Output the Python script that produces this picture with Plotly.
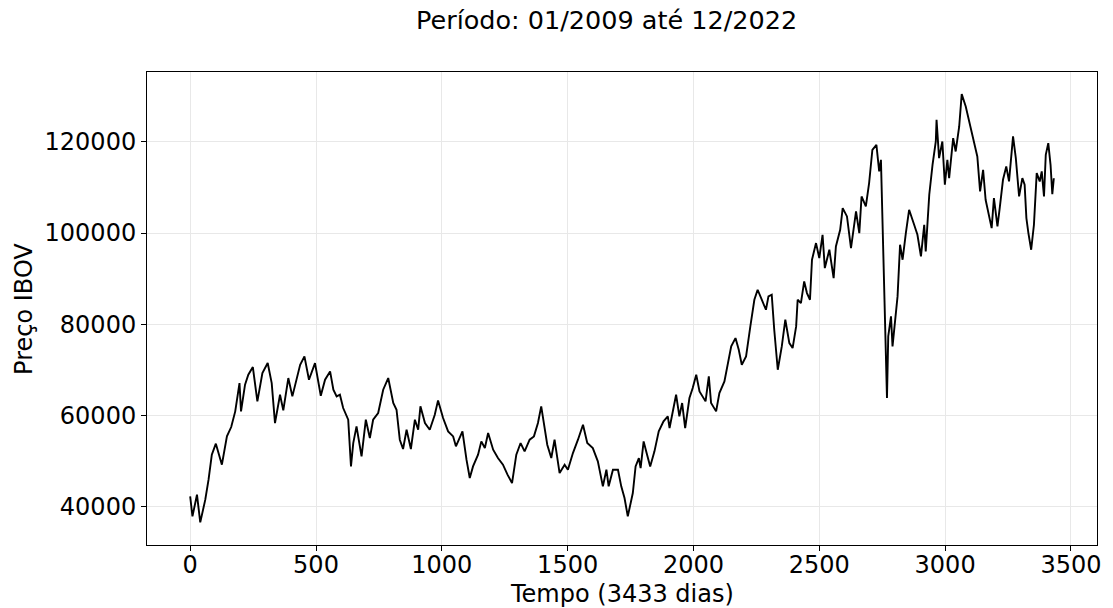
import plotly.graph_objects as go

# Série diária do IBOV (pregões numerados a partir de 0)
dias = [
    0, 9, 27, 40, 60, 73, 86, 102, 126, 146, 163, 179, 196, 202, 218, 231, 249, 267,
    287, 308, 324, 337, 357, 370, 390, 406, 437, 454, 472, 496, 519, 536, 556, 569,
    582, 595, 608, 628, 639, 648, 661, 681, 698, 714, 727, 747, 767, 787, 807, 820,
    833, 846, 860, 877, 893, 906, 915, 933, 952, 972, 985, 1005, 1025, 1045, 1056,
    1082, 1098, 1111, 1124, 1144, 1157, 1171, 1184, 1204, 1223, 1243, 1261, 1279,
    1296, 1313, 1329, 1349, 1366, 1382, 1395, 1409, 1419, 1435, 1448, 1468, 1488,
    1501, 1521, 1541, 1561, 1578, 1600, 1620, 1640, 1654, 1663, 1680, 1700, 1713,
    1726, 1739, 1759, 1770, 1783, 1790, 1802, 1812, 1828, 1845, 1862, 1881, 1898,
    1905, 1918, 1931, 1944, 1955, 1967, 1984, 1997, 2011, 2024, 2037, 2048, 2061,
    2070, 2090, 2103, 2123, 2136, 2150, 2167, 2180, 2192, 2209, 2226, 2242, 2255,
    2273, 2288, 2298, 2311, 2321, 2335, 2351, 2365, 2381, 2394, 2408, 2414, 2427,
    2440, 2451, 2463, 2471, 2487, 2500, 2513, 2522, 2540, 2557, 2566, 2583, 2593,
    2610, 2626, 2646, 2659, 2668, 2685, 2698, 2711, 2727, 2738, 2745, 2751, 2758,
    2769, 2774, 2785, 2791, 2800, 2811, 2821, 2831, 2844, 2857, 2877, 2890, 2904,
    2917, 2923, 2937, 2950, 2963, 2966, 2976, 2989, 2999, 3009, 3016, 3032, 3042,
    3056, 3066, 3082, 3093, 3106, 3119, 3128, 3139, 3151, 3161, 3175, 3185, 3194,
    3208, 3217, 3230, 3243, 3254, 3270, 3281, 3294, 3307, 3316, 3323, 3331, 3342,
    3353, 3364, 3376, 3384, 3393, 3400, 3410, 3419, 3426, 3432,
]

preco = [
    42257, 37873, 42629, 36559, 41534, 45917, 51397, 53808, 49205, 55414, 57460,
    60897, 67105, 60897, 66739, 68931, 70611, 63086, 69297, 71489, 67105, 58337,
    64547, 61116, 68200, 64181, 71123, 72949, 67835, 71489, 64328, 67835, 69663,
    65643, 64181, 64547, 61628, 59068, 48834, 53954, 57606, 51031, 59068, 55049,
    59068, 60531, 65643, 68200, 62723, 61260, 54684, 52647, 56876, 52647, 59068,
    56876, 61992, 58337, 56876, 60164, 63305, 59433, 56511, 55414, 53224, 56511,
    50301, 46283, 48834, 51397, 54320, 52858, 56146, 52493, 50666, 49205, 47013,
    45187, 51397, 53954, 52131, 54684, 55414, 58337, 61992, 57606, 53588, 50666,
    54684, 47379, 49205, 48109, 51762, 54684, 57972, 53954, 52858, 49936, 44456,
    48109, 44456, 48109, 48109, 44456, 41902, 37873, 42995, 48834, 50666, 48474,
    54320, 52131, 48834, 52131, 56511, 58704, 59799, 57241, 61260, 64547, 59799,
    62723, 57241, 63816, 66008, 68931, 65277, 64181, 63086, 68565, 62723, 60897,
    64912, 67470, 71123, 75141, 76967, 74411, 71123, 72949, 79525, 85370, 87561,
    85005, 83178, 86100, 86465, 78794, 70027, 75141, 80986, 75871, 74776, 79525,
    85370, 84639, 89388, 86830, 85370, 94137, 97790, 94503, 99616, 92310, 96329,
    90119, 97059, 100712, 105462, 103635, 96694, 104731, 99981, 108019, 105827,
    110940, 118247, 119342, 113498, 116055, 102904, 83178, 63816, 77333, 81717,
    75141, 80621, 86100, 97424, 94137, 99981, 105096, 101808, 99616, 94868, 101808,
    95964, 108383, 114959, 120066, 124822, 116420, 120066, 110575, 116055, 112036,
    120804, 117874, 123361, 130447, 127745, 125187, 121534, 118977, 116785, 109114,
    113863, 107288, 103635, 101078, 107653, 101443, 105462, 111671, 114593, 111306,
    121169, 116420, 108019, 112036, 110575, 103270, 99981, 96329, 101808, 113132,
    111306, 113498, 108019, 117151, 119715, 114959, 108500, 112000,
]

xticks = [0, 500, 1000, 1500, 2000, 2500, 3000, 3500]
yticks = [40000, 60000, 80000, 100000, 120000]

titulo = "Período: 01/2009 até 12/2022"
rotulo_x = "Tempo (3433 dias)"
rotulo_y = "Preço IBOV"

FONTE = "DejaVu Sans"

fig = go.Figure()
fig.add_trace(go.Scatter(
    x=dias, y=preco, mode="lines",
    line=dict(color="black", width=1.9),
    showlegend=False, hoverinfo="skip",
))

eixo = dict(
    showline=True, linecolor="black", linewidth=1, mirror=True,
    ticks="outside", ticklen=5, tickwidth=1, tickcolor="black",
    showgrid=True, gridcolor="#e8e8e8", gridwidth=1,
    zeroline=False, tickformat="d",
    tickfont=dict(family=FONTE, size=24, color="black"),
)

fig.update_layout(
    width=1113, height=608,
    margin=dict(l=147, r=13, t=72, b=63),
    paper_bgcolor="white", plot_bgcolor="white",
    xaxis=dict(eixo, range=[-171.6, 3603.6], tickvals=xticks,
               ticklabelstandoff=-7),
    yaxis=dict(eixo, range=[31600, 135300], tickvals=yticks),
    annotations=[
        dict(text=titulo, xref="paper", yref="paper", x=0.4837, y=1.1099,
             xanchor="center", yanchor="middle", showarrow=False,
             font=dict(family=FONTE, size=25.5, color="black")),
        dict(text=rotulo_x, xref="paper", yref="paper", x=0.5, y=-0.1036,
             xanchor="center", yanchor="middle", showarrow=False,
             font=dict(family=FONTE, size=24, color="black")),
        dict(text=rotulo_y, xref="paper", yref="paper", x=-0.1301, y=0.5,
             xanchor="center", yanchor="middle", showarrow=False, textangle=-90,
             font=dict(family=FONTE, size=24, color="black")),
    ],
)

fig.write_html("out.html")
